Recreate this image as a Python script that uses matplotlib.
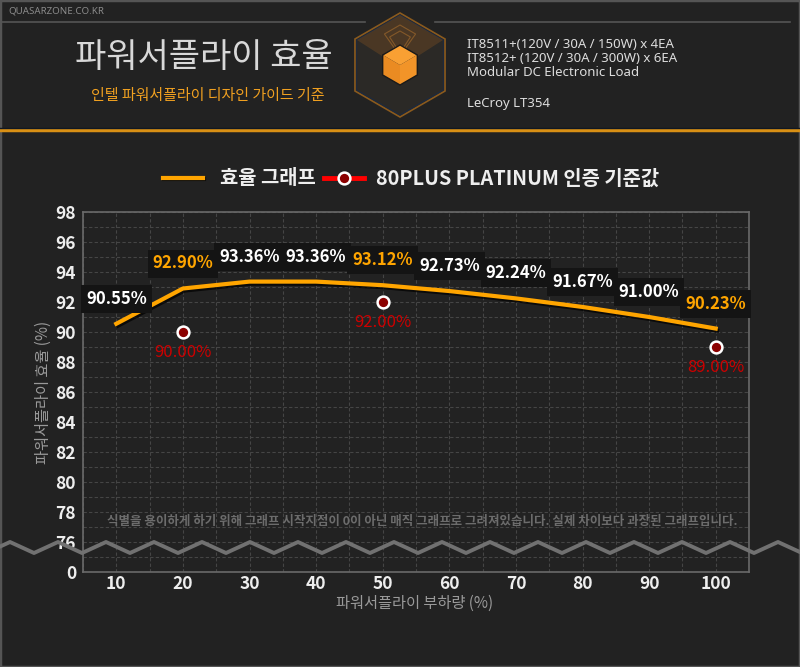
import numpy as np
import matplotlib
matplotlib.use('Agg')
import matplotlib.pyplot as plt
from matplotlib.patches import Polygon, Rectangle
from matplotlib.lines import Line2D
import matplotlib.patheffects as pe

plt.rcParams['font.family'] = ['Noto Sans CJK KR', 'DejaVu Sans']

# data
loads = [10, 20, 30, 40, 50, 60, 70, 80, 90, 100]
efficiency = [90.55, 92.90, 93.36, 93.36, 93.12, 92.73, 92.24, 91.67, 91.00, 90.23]
platLoads = [20, 50, 100]
platValues = [90.00, 92.00, 89.00]
yTicks = [74, 76, 78, 80, 82, 84, 86, 88, 90, 92, 94, 96, 98]
yTickLabels = ['0', '76', '78', '80', '82', '84', '86', '88', '90', '92', '94', '96', '98']

W, H = 800, 667
bg = '#222222'
orange = '#ffa500'

fig = plt.figure(figsize=(W / 100, H / 100), dpi=100, facecolor=bg)


def fx(x):
    return x / W


def fy(y):
    return 1 - y / H


# header
fig.text(fx(8), fy(11), 'QUASARZONE.CO.KR', color='#8a8a8a', fontsize=7, va='center', ha='left',
         family=['Noto Sans', 'DejaVu Sans'])
fig.add_artist(Line2D([fx(0), fx(365)], [fy(22), fy(22)], color='#555555', lw=1.2))
fig.add_artist(Line2D([fx(435), fx(790)], [fy(22), fy(22)], color='#555555', lw=1.2))
fig.text(fx(204), fy(57), '파워서플라이 효율', color='#d8d8d8', fontsize=24.5, va='center', ha='center',
         weight='light')
fig.text(fx(208), fy(96), '인텔 파워서플라이 디자인 가이드 기준', color='#f0a020', fontsize=10.8,
         va='center', ha='center')
infoLines = ['IT8511+(120V / 30A / 150W) x 4EA', 'IT8512+ (120V / 30A / 300W) x 6EA',
             'Modular DC Electronic Load']
for i, s in enumerate(infoLines):
    fig.text(fx(467), fy(45 + 14 * i), s, color='#dddddd', fontsize=9.5, va='center', ha='left',
             family=['Noto Sans', 'DejaVu Sans'])
fig.text(fx(467), fy(103), 'LeCroy LT354', color='#dddddd', fontsize=9.5, va='center', ha='left',
         family=['Noto Sans', 'DejaVu Sans'])
fig.add_artist(Line2D([fx(0), fx(800)], [fy(130), fy(130)], color='#d99015', lw=2.5))
fig.add_artist(Line2D([fx(0), fx(800)], [fy(127.5), fy(127.5)], color='#111822', lw=1))

# logo
cx, cy = 400, 65


def hexPts(r, cxp=cx, cyp=cy):
    ang = np.deg2rad([90, 150, 210, 270, 330, 30])
    return [(fx(cxp + r * np.cos(a)), fy(cyp - r * np.sin(a))) for a in ang]


fig.add_artist(Polygon(hexPts(52), closed=True, facecolor='#2b2926', edgecolor='#8a5a1e', lw=1.2,
                       transform=fig.transFigure))
fig.add_artist(Polygon(hexPts(50), closed=True, facecolor='none', edgecolor='#1c2a40', lw=0.8,
                       transform=fig.transFigure))
glow = [(fx(400), fy(15)), (fx(357), fy(40)), (fx(382), fy(56)), (fx(400), fy(46)), (fx(418), fy(56)),
        (fx(443), fy(40))]
fig.add_artist(Polygon(glow, closed=True, facecolor='#c9741c', alpha=0.2, edgecolor='none',
                       transform=fig.transFigure))
for rr in [12, 18]:
    fig.add_artist(Polygon(hexPts(rr, cx, cy - 22)[:1] + hexPts(rr, cx, cy - 22)[1:2] +
                           [(fx(cx), fy(cy - 22 + rr / 2 + 4))] + hexPts(rr, cx, cy - 22)[5:6],
                           closed=True, facecolor='none', edgecolor='#d98a30', lw=0.8, alpha=0.4,
                           transform=fig.transFigure))
r = 20
top = [(fx(cx), fy(cy - r)), (fx(cx - 17), fy(cy - r / 2)), (fx(cx), fy(cy)), (fx(cx + 17), fy(cy - r / 2))]
left = [(fx(cx - 17), fy(cy - r / 2)), (fx(cx - 17), fy(cy + r / 2)), (fx(cx), fy(cy + r)), (fx(cx), fy(cy))]
right = [(fx(cx + 17), fy(cy - r / 2)), (fx(cx + 17), fy(cy + r / 2)), (fx(cx), fy(cy + r)), (fx(cx), fy(cy))]
for pts, c in [(top, '#f9a033'), (left, '#ea8b22'), (right, '#f29428')]:
    fig.add_artist(Polygon(pts, closed=True, facecolor=c, edgecolor='none', transform=fig.transFigure))
fig.add_artist(Polygon(hexPts(20), closed=True, facecolor='none', edgecolor='#1a1a1a', lw=1,
                       transform=fig.transFigure))

# legend
legY = 178
fig.add_artist(Line2D([fx(163), fx(203)], [fy(legY), fy(legY)], color=orange, lw=3,
                      path_effects=[pe.SimpleLineShadow(offset=(1, -1), alpha=0.6), pe.Normal()]))
fig.text(fx(220), fy(legY), '효율 그래프', color='#eeeeee', fontsize=14.3, weight='bold', va='center', ha='left')
fig.add_artist(Line2D([fx(324), fx(364)], [fy(legY), fy(legY)], color='#ff0000', lw=3.5))
fig.add_artist(Line2D([fx(344)], [fy(legY)], marker='o', markersize=8.5, markerfacecolor='#8b0000',
                      markeredgecolor='white', markeredgewidth=1.8))
fig.text(fx(376), fy(legY), '80PLUS PLATINUM 인증 기준값', color='#eeeeee', fontsize=14.3, weight='bold',
         va='center', ha='left')

# axes
ax = fig.add_axes([fx(83), fy(572), (749 - 83) / W, (572 - 212) / H])
ax.set_facecolor(bg)
ax.set_xlim(5, 105)
ax.set_ylim(74, 98)
ax.set_xticks(loads)
ax.set_xticks(np.arange(5, 106, 5), minor=True)
ax.set_yticks(yTicks)
ax.set_yticklabels(yTickLabels)
ax.set_yticks(np.arange(75, 98, 2), minor=True)
ax.grid(True, which='both', color='#454545', ls=(0, (3, 2)), lw=0.8)
ax.set_axisbelow(True)
for s in ax.spines.values():
    s.set_color('#6a6a6a')
    s.set_linewidth(1.2)
ax.tick_params(which='both', length=0, labelcolor='#eeeeee', labelsize=12.5)
ax.tick_params(axis='x', pad=2)
ax.tick_params(axis='y', pad=5)
for lab in ax.get_xticklabels() + ax.get_yticklabels():
    lab.set_fontweight('bold')

ax.set_xlabel('파워서플라이 부하량 (%)', color='#9a9a9a', fontsize=11)
ax.set_ylabel('파워서플라이 효율 (%)', color='#9a9a9a', fontsize=11)
ax.xaxis.set_label_coords(0.4985, -0.064)
ax.yaxis.set_label_coords(-0.047, 0.5)

ax.plot(loads, efficiency, color=orange, lw=3, solid_joinstyle='round', zorder=4,
        path_effects=[pe.SimpleLineShadow(offset=(1, -1.5), shadow_color='black', alpha=0.7), pe.Normal()])
ax.plot(platLoads, platValues, 'o', markersize=8.5, markerfacecolor='#8b0000', markeredgecolor='white',
        markeredgewidth=1.8, zorder=5, linestyle='none')

for x, v in zip(loads, efficiency):
    c = orange if x in platLoads else '#ffffff'
    ax.annotate('%.2f%%' % v, (x, v), xytext=(0, 18), textcoords='offset points', ha='center',
                va='center', color=c, fontsize=12, weight='bold', zorder=6,
                bbox=dict(boxstyle='square,pad=0.3', facecolor='#141414', edgecolor='none'))
for x, v in zip(platLoads, platValues):
    ax.annotate('%.2f%%' % v, (x, v), xytext=(0, -15), textcoords='offset points', ha='center',
                va='center', color='#cc0000', fontsize=12, zorder=6)

# note and wave
fig.text(fx(422), fy(521), '식별을 용이하게 하기 위해 그래프 시작지점이 0이 아닌 매직 그래프로 그려져있습니다. 실제 차이보다 과장된 그래프입니다.',
         color='#6c6c6c', fontsize=9, weight='bold', va='center', ha='center')
period = 48
wx = np.arange(-38, W + period, period / 2)
wy = np.where(np.arange(len(wx)) % 2 == 0, 542, 553)
fig.add_artist(Line2D([fx(v) for v in wx], [fy(v) for v in wy], color='#717171', lw=2.8,
                      solid_joinstyle='round', zorder=10))

# outer border
fig.add_artist(Rectangle((0, 0), 1, 1, transform=fig.transFigure, facecolor='none', edgecolor='#555555',
                         lw=2.5))

fig.savefig('out.png', dpi=100, facecolor=bg)
